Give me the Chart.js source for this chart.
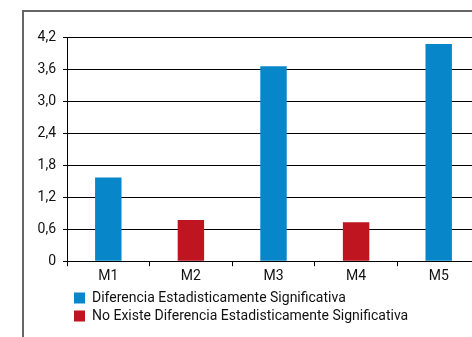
<!DOCTYPE html>
<html>
<head>
<meta charset="utf-8">
<script src="https://cdn.jsdelivr.net/npm/chart.js@4.4.1/dist/chart.umd.min.js"></script>
<style>
  html, body { margin: 0; padding: 0; background: #fff; overflow: hidden; }
  #frame { position: absolute; left: 22px; top: 10px; width: 460px; height: 340px;
           border-left: 2px solid #666; border-top: 2px solid #666; }
  #wrap { position: absolute; left: 0; top: 0; width: 480px; height: 337px; }
</style>
</head>
<body>
<div id="frame"></div>
<div id="wrap"><canvas id="barChart"></canvas></div>
<script>
// Categories and values
var categories = ['M1', 'M2', 'M3', 'M4', 'M5'];
var significant = [1.57, null, 3.65, null, 4.07];
var notSignificant = [null, 0.77, null, 0.73, null];
var seriesNames = ['Diferencia Estadisticamente Significativa', 'No Existe Diferencia Estadisticamente Significativa'];
var yTickLabels = ['0', '0,6', '1,2', '1,8', '2,4', '3,0', '3,6', '4,2'];

Chart.defaults.font.family = 'Roboto';
Chart.defaults.font.size = 14;
Chart.defaults.color = '#111';

// nudge the legend a few pixels right, like the original
var legendShift = {
    id: 'legendShift',
    afterLayout: function (chart) {
        chart.legend.left += 3;
        chart.legend.right += 3;
    }
};

var ctx = document.getElementById('barChart').getContext('2d');
var barChart = new Chart(ctx, {
    type: 'bar',
    data: {
        labels: categories,
        datasets: [{
            label: seriesNames[0],
            data: significant,
            backgroundColor: '#0787CA'
        }, {
            label: seriesNames[1],
            data: notSignificant,
            backgroundColor: '#BF1521'
        }]
    },
    plugins: [legendShift],
    options: {
        responsive: true,
        maintainAspectRatio: false,
        animation: false,
        categoryPercentage: 1,
        barPercentage: 0.32,
        layout: { padding: { top: 37, right: 0, bottom: 4, left: 0 } },
        plugins: {
            tooltip: { enabled: false },
            legend: {
                position: 'bottom',
                align: 'start',
                fullSize: false,
                labels: { boxWidth: 11, boxHeight: 11, padding: 4, color: '#111' }
            }
        },
        scales: {
            x: {
                stacked: true,
                grid: { drawOnChartArea: false, color: '#000', tickLength: 5, offset: true },
                border: { color: '#000', width: 1 },
                ticks: { padding: 2, color: '#111' }
            },
            y: {
                stacked: true,
                min: 0,
                max: 4.2,
                afterFit: function (scale) { scale.width = 67; },
                grid: { color: '#000', tickLength: 4, lineWidth: 1 },
                border: { color: '#000', width: 1 },
                ticks: {
                    stepSize: 0.6,
                    padding: 7,
                    color: '#111',
                    callback: function (value, index) { return yTickLabels[index]; }
                }
            }
        }
    }
});
</script>
</body>
</html>
